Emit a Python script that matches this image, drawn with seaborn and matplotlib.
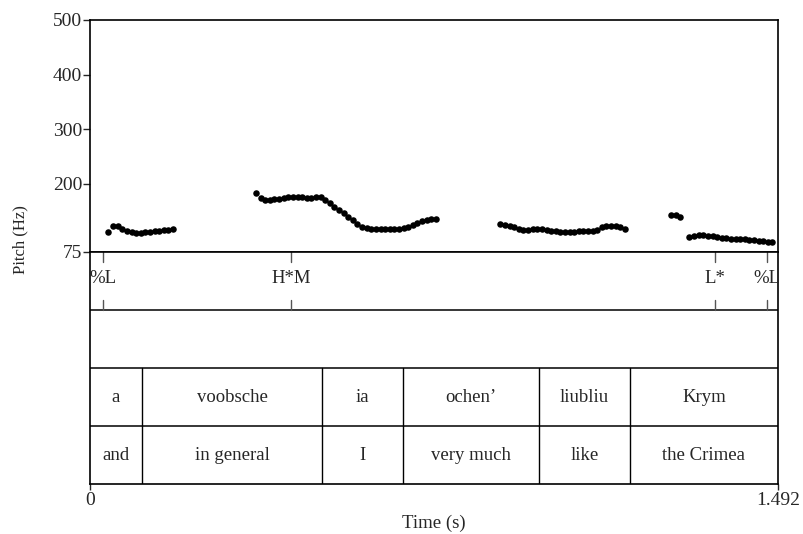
import matplotlib
matplotlib.use("Agg")
import matplotlib.pyplot as plt
import pandas as pd
import seaborn as sns

sns.set_theme(style="ticks")
plt.rcParams["font.family"] = ["Liberation Serif", "DejaVu Serif"]
plt.rcParams["font.size"] = 13.5

DURATION = 1.492

# pitch track (time in s, F0 in Hz)
pitch_time = [
    0.04, 0.05, 0.06, 0.07, 0.08, 0.09, 0.10, 0.11, 0.12, 0.13, 0.14, 0.15, 0.16, 0.17, 0.18,
    0.36, 0.37, 0.38, 0.39, 0.40, 0.41, 0.42, 0.43, 0.44, 0.45, 0.46, 0.47, 0.48, 0.49, 0.50,
    0.51, 0.52, 0.53, 0.54, 0.55, 0.56, 0.57, 0.58, 0.59, 0.60, 0.61, 0.62, 0.63, 0.64, 0.65,
    0.66, 0.67, 0.68, 0.69, 0.70, 0.71, 0.72, 0.73, 0.74, 0.75,
    0.89, 0.90, 0.91, 0.92, 0.93, 0.94, 0.95, 0.96, 0.97, 0.98, 0.99, 1.00, 1.01, 1.02, 1.03,
    1.04, 1.05, 1.06, 1.07, 1.08, 1.09, 1.10, 1.11, 1.12, 1.13, 1.14, 1.15, 1.16,
    1.26, 1.27, 1.28,
    1.30, 1.31, 1.32, 1.33, 1.34, 1.35, 1.36, 1.37, 1.38, 1.39, 1.40, 1.41, 1.42, 1.43, 1.44,
    1.45, 1.46, 1.47, 1.48,
]
pitch_hz = [
    112, 122, 122, 118, 114, 111, 110, 110, 111, 112, 113, 114, 115, 116, 117,
    183, 174, 170, 171, 172, 173, 174, 175, 175, 175, 175, 174, 174, 175, 175,
    170, 164, 158, 152, 146, 140, 134, 126, 120, 119, 118, 118, 117, 117, 117,
    117, 118, 119, 121, 124, 128, 132, 134, 135, 135,
    126, 125, 123, 121, 118, 116, 115, 117, 118, 117, 116, 114, 113, 112, 112,
    112, 112, 113, 113, 114, 114, 116, 121, 123, 123, 122, 121, 118,
    143, 142, 139,
    103, 105, 106, 106, 105, 104, 102, 101, 100, 99, 99, 98, 98, 97, 97,
    96, 95, 93, 93,
]
pitch_ticks = [75, 200, 300, 400, 500]

# tone tier (points)
tone_times = [0.028, 0.436, 1.355, 1.468]
tone_labels = ["%L", "H*M", "L*", "%L"]

# word / gloss tiers (interval boundaries)
word_bounds = [0.0, 0.113, 0.503, 0.679, 0.974, 1.171, 1.492]
words = ["a", "voobsche", "ia", "ochen’", "liubliu", "Krym"]
glosses = ["and", "in general", "I", "very much", "like", "the Crimea"]

df = pd.DataFrame({"time": pitch_time, "hz": pitch_hz})

W, H = 804, 534
fig = plt.figure(figsize=(W / 100, H / 100), dpi=100)
x0, x1 = 90, 778
ax_p = fig.add_axes([x0 / W, 1 - 252 / H, (x1 - x0) / W, 232 / H])
ax_t = fig.add_axes([x0 / W, 1 - 484 / H, (x1 - x0) / W, 232 / H])

sns.scatterplot(data=df, x="time", y="hz", ax=ax_p, color="black", s=22,
                edgecolor="black", linewidth=0, legend=False)
ax_p.set_xlim(0, DURATION)
ax_p.set_ylim(75, 500)
ax_p.set_yticks(pitch_ticks)
ax_p.set_xticks([])
ax_p.set_xlabel("")
ax_p.set_ylabel("")
ax_p.tick_params(axis="y", direction="out", length=5, width=1, labelsize=14, pad=0.5)
for sp in ax_p.spines.values():
    sp.set_visible(True)
    sp.set_linewidth(1.2)
    sp.set_color("black")

# text grid
ax_t.set_xlim(0, DURATION)
ax_t.set_ylim(0, 4)
ax_t.set_yticks([])
ax_t.set_xticks([0, DURATION])
ax_t.set_xticklabels(["0", "1.492"])
ax_t.tick_params(axis="x", direction="out", length=4, width=1, labelsize=14, pad=2)
for sp in ax_t.spines.values():
    sp.set_visible(True)
    sp.set_linewidth(1.2)
    sp.set_color("black")
for yy in [1, 2, 3]:
    ax_t.axhline(yy, color="black", lw=1.1)

for t, lab in zip(tone_times, tone_labels):
    ax_t.plot([t, t], [4, 3.82], color="#555555", lw=1)
    ax_t.plot([t, t], [3.0, 3.18], color="#555555", lw=1)
    ax_t.text(t, 3.55, lab, ha="center", va="center", fontsize=13.5)

for row, labels in [(1, words), (0, glosses)]:
    for i, lab in enumerate(labels):
        a, b = word_bounds[i], word_bounds[i + 1]
        if i > 0:
            ax_t.plot([a, a], [row, row + 1], color="black", lw=1)
        ax_t.text((a + b) / 2, row + 0.5, lab, ha="center", va="center", fontsize=13.5)

ax_t.set_xlabel("")
fig.text(434 / W, 1 - 523 / H, "Time (s)", ha="center", va="center", fontsize=13.5)
fig.text(20 / W, 1 - 240 / H, "Pitch (Hz)", rotation=90, ha="center", va="center", fontsize=12)

fig.savefig("out.png", dpi=100)
